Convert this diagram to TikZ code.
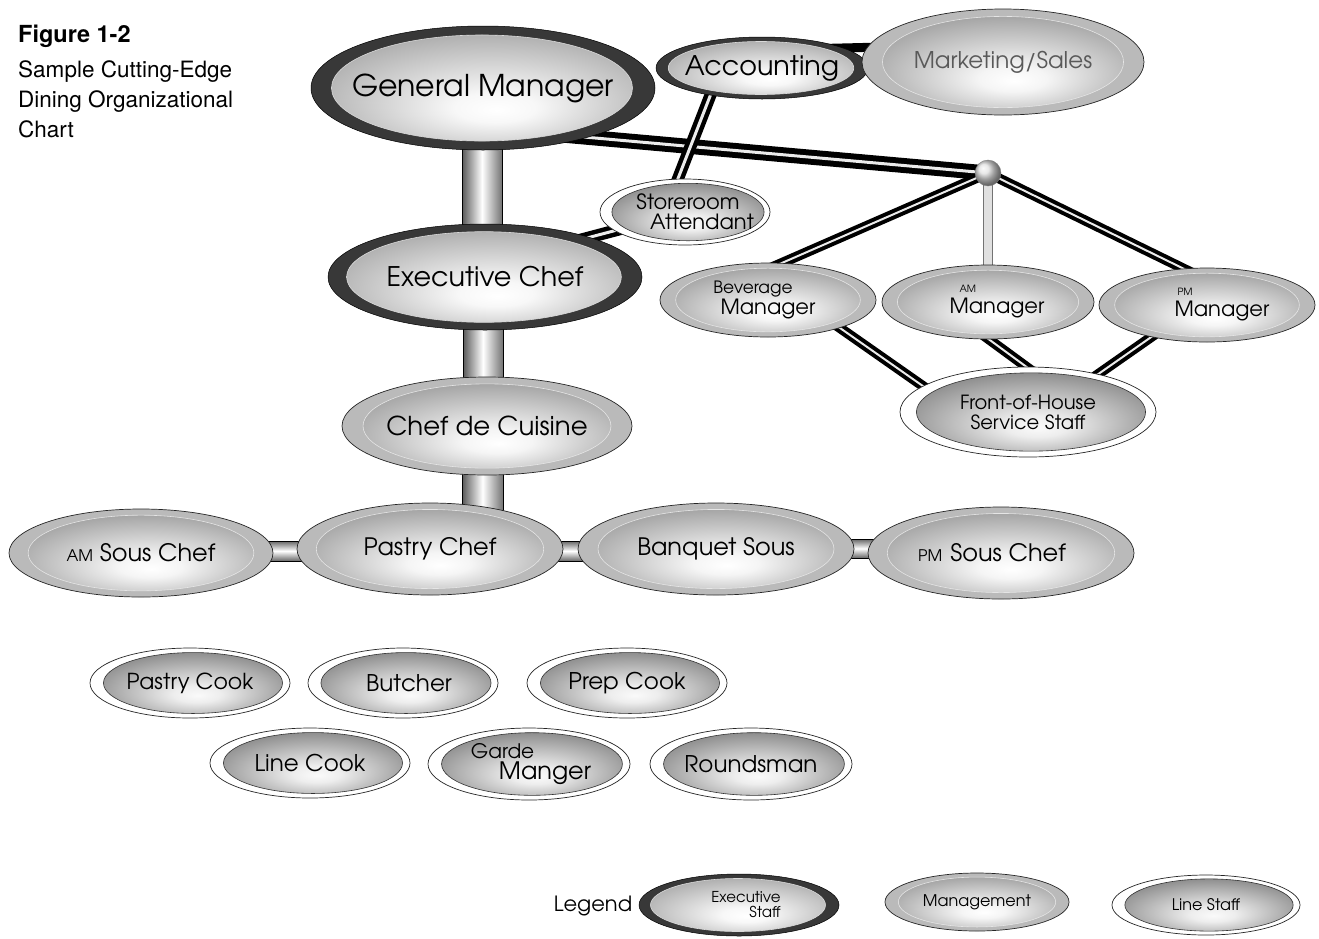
\documentclass[tikz,border=0pt]{standalone}
\usepackage{fontspec}
\newfontfamily\gothic{TeX Gyre Adventor}
\newfontfamily\titlefont{TeX Gyre Heros}
\usetikzlibrary{shapes.geometric,calc}
\pgfdeclarelayer{paper}
\pgfdeclarelayer{links}
\pgfsetlayers{paper,links,main}

\pgfdeclareradialshading{execshade}{\pgfpoint{2bp}{-9bp}}{rgb(0bp)=(1,1,1); rgb(6bp)=(0.97,0.97,0.97); rgb(31bp)=(0.62,0.62,0.62); rgb(50bp)=(0.62,0.62,0.62)}
\pgfdeclareradialshading{mgmtshade}{\pgfpoint{2bp}{-9bp}}{rgb(0bp)=(1,1,1); rgb(6bp)=(0.96,0.96,0.96); rgb(31bp)=(0.57,0.57,0.57); rgb(50bp)=(0.57,0.57,0.57)}
\pgfdeclareradialshading{lineshade}{\pgfpoint{2bp}{-9bp}}{rgb(0bp)=(0.98,0.98,0.98); rgb(6bp)=(0.93,0.93,0.93); rgb(32bp)=(0.45,0.45,0.45); rgb(50bp)=(0.45,0.45,0.45)}

\newcommand\innerov[5]{%
  \path[shade, shading=#1, draw=#2, line width=0.6pt]
    let \p1=(path picture bounding box.north east),
        \p2=(path picture bounding box.center) in
    ($(\p2)+(#5pt,0pt)$) ellipse [x radius={(\x1-\x2)*#3}, y radius={(\y1-\y2)*#4}];}

\tikzset{
  orgbase/.style={ellipse, inner sep=-300pt, outer sep=0pt, text=black},
  execstaff/.style={orgbase, fill=black!78, draw=black, line width=0.5pt,
    path picture={\innerov{execshade}{white!85!black}{0.875}{0.855}{-1}}},
  mgmt/.style={orgbase, fill=black!27, draw=black!85, line width=0.7pt,
    path picture={\innerov{mgmtshade}{white!90!black}{0.855}{0.86}{0}}},
  linestaff/.style={orgbase, fill=white, draw=black!85, line width=0.7pt,
    path picture={\innerov{lineshade}{black!80}{0.895}{0.87}{3}}},
  sz/.style 2 args={minimum width=#1pt, minimum height=#2pt},
  fs/.style 2 args={font=\gothic\fontsize{#1}{#2}\selectfont},
  vpipe/.style={draw=black, line width=0.6pt, left color=black!65, right color=black!55, middle color=white},
  hpipe/.style={draw=black, line width=0.6pt, top color=black!60, bottom color=black!60, middle color=white},
  dbl/.style 2 args={draw=black, line width=#1pt, double=white!92!black, double distance=#2pt},
  lpipe/.style={draw=black!55, line width=0.7pt, double=black!12, double distance=8pt},
  hubstyle/.style={circle, minimum size=26pt, inner sep=0pt, ball color=black!12, draw=black!50, line width=0.4pt},
}

\begin{document}
\begin{tikzpicture}[x=1pt,y=-1pt]
\useasboundingbox (0,0) rectangle (1319,938);
\begin{pgfonlayer}{paper}
  \fill[white] (0,0) rectangle (1319,938);
\end{pgfonlayer}

% title
\node[anchor=north west, inner sep=0pt, align=left, font=\titlefont\fontsize{22.5}{30}\selectfont] (title) at (18,25)
  {{\fontsize{23.5}{30}\selectfont\bfseries Figure 1-2}\\[5pt]Sample Cutting-Edge\\Dining Organizational\\Chart};

% executive staff and top row
\node[execstaff, sz={344}{124}, fs={30}{34}] (gm) at (483,88) {General Manager};
\node[execstaff, sz={212}{62}, fs={27}{30}] (acc) at (762,68) {Accounting};
\node[mgmt, sz={282}{106}, fs={23}{26}, text=black!65] (mkt) at (1003,62) {Marketing/Sales};
\node[hubstyle] (hub) at (988,173) {};
\node[linestaff, sz={170}{66}, fs={21}{20}, align=center] (store) at (685,212)
  {\hspace*{6pt}Storeroom\\\hspace*{34pt}Attendant};
\node[execstaff, sz={314}{106}, fs={27}{30}] (ec) at (485,277) {Executive Chef};

% front of house
\node[mgmt, sz={216}{74}, fs={21}{21}, align=center] (bev) at (768,300)
  {{\fontsize{17}{17}\selectfont Beverage}\hspace*{30pt}\\Manager};
\node[mgmt, sz={212}{74}, fs={21}{21}, align=left] (am) at (988,302)
  {\hspace*{28pt}{\fontsize{10}{10}\selectfont AM}\\\hspace*{18pt}Manager};
\node[mgmt, sz={216}{74}, fs={21}{21}, align=left] (pm) at (1207,305)
  {\hspace*{33pt}{\fontsize{10}{10}\selectfont PM}\\\hspace*{30pt}Manager};
\node[linestaff, sz={256}{90}, fs={19.5}{20}, align=center] (foh) at (1028,412)
  {Front-of-House\\Service Staff};

% kitchen management
\node[mgmt, sz={290}{98}, fs={26}{28}] (cdc) at (487,426) {Chef de Cuisine};
\node[mgmt, sz={264}{88}, fs={24}{26}] (amsous) at (141,553) {{\fontsize{16}{16}\selectfont AM} Sous Chef};
\node[mgmt, sz={266}{92}, fs={24}{26}] (pastry) at (430,549) {Pastry Chef};
\node[mgmt, sz={276}{92}, fs={24}{26}] (banq) at (716,549) {Banquet Sous};
\node[mgmt, sz={266}{92}, fs={24}{26}] (pmsous) at (1001,553) {{\fontsize{16}{16}\selectfont PM}\hspace{8pt}Sous Chef\hspace*{18pt}};

% line staff
\node[linestaff, sz={200}{70}, fs={22}{24}] (pcook) at (190,683) {Pastry Cook};
\node[linestaff, sz={190}{70}, fs={23}{24}] (butcher) at (403,683) {\hspace*{12pt}Butcher};
\node[linestaff, sz={200}{70}, fs={23}{24}] (prep) at (627,683) {Prep Cook};
\node[linestaff, sz={200}{70}, fs={23}{24}] (lcook) at (310,763) {Line Cook};
\node[linestaff, sz={202}{72}, fs={24}{21}, align=left] (garde) at (529,764)
  {\hspace*{4pt}{\fontsize{20}{20}\selectfont Garde}\\\hspace*{32pt}Manger};
\node[linestaff, sz={202}{72}, fs={23}{24}] (rounds) at (751,764) {Roundsman};

% legend
\node[fs={21}{24}, inner sep=0pt] (legend) at (593,906) {Legend};
\node[execstaff, sz={200}{62}, fs={15}{15}, align=right] (legexec) at (739,905) {\hspace*{14pt}Executive\\Staff};
\node[mgmt, sz={184}{58}, fs={16}{16}] (legmgmt) at (977,902) {Management};
\node[linestaff, sz={188}{60}, fs={16}{16}] (legline) at (1206,905) {Line Staff};

% connectors
\begin{pgfonlayer}{links}
  \draw[vpipe] ($(gm.center)+(-21,0)$) rectangle ($(ec.center -| gm.center)+(19,0)$);
  \draw[vpipe] ($(ec.center)+(-22,0)$) rectangle ($(cdc.center -| ec.center)+(18,0)$);
  \draw[vpipe] ($(cdc.center)+(-25,0)$) rectangle ($(pastry.center -| cdc.center)+(16,0)$);
  \draw[hpipe] ($(amsous.center)+(0,-12)$) rectangle ($(pastry.center)+(0,12)$);
  \draw[hpipe] ($(pastry.center)+(0,-8)$) rectangle ($(banq.center)+(0,12)$);
  \draw[hpipe] ($(banq.center)+(0,-10)$) rectangle ($(pmsous.center)+(0,5)$);
  \draw[dbl={6}{3}] ($(gm.center)+(0,40)$) -- (hub.center);
  \draw[dbl={4.5}{3}] ($(acc.center)+(-41,0)$) -- ($(store.center)+(-20,0)$);
  \draw[dbl={4.5}{3}] ($(ec.center)+(0,-12)$) -- (store.center);
  \draw[draw=black, line width=9pt] ($(acc.center)+(0,-18)$) -- ($(mkt.center)+(0,-18)$);
  \draw[dbl={4}{2}] (hub.center) -- ($(bev.center)+(-48,-10)$);
  \draw[lpipe] (hub.center) -- (am.center);
  \draw[dbl={4}{2}] (hub.center) -- ($(pm.center)+(10,-20)$);
  \draw[dbl={4}{2}] ($(bev.center)+(32,0)$) -- ($(foh.center)+(-68,0)$);
  \draw[dbl={4}{2}] ($(am.center)+(-50,0)$) -- ($(foh.center)+(60,0)$);
  \draw[dbl={4}{2}] ($(pm.center)+(-10,0)$) -- ($(foh.center)+(16,0)$);
\end{pgfonlayer}
\end{tikzpicture}
\end{document}
